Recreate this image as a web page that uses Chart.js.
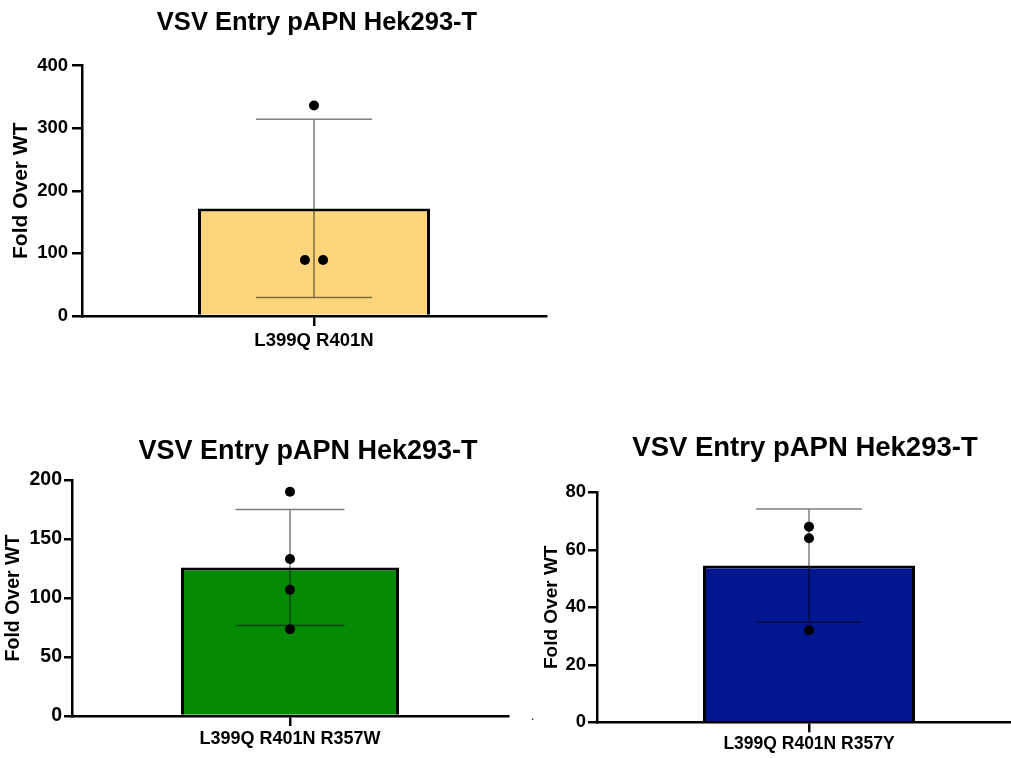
<!DOCTYPE html>
<html>
<head>
<meta charset="utf-8">
<script src="https://cdn.jsdelivr.net/npm/chart.js@4.4.1/dist/chart.umd.min.js"></script>
<style>
    html, body { margin: 0; padding: 0; background: #fff; overflow: hidden; width: 1011px; height: 758px; }
    canvas { position: absolute; }
    #dot { position: absolute; left: 531px; top: 709px; font: 12px 'Liberation Sans', Arial, sans-serif; color: #000; }
</style>
</head>
<body>
<canvas id="chart1" width="634" height="360" style="left:0;top:0"></canvas>
<canvas id="chart2" width="616" height="358" style="left:0;top:400px"></canvas>
<canvas id="chart3" width="570" height="358" style="left:520px;top:400px"></canvas>
<span id="dot">.</span>
<script>
// values
const titleText = 'VSV Entry pAPN Hek293-T';
const yTitle = 'Fold Over WT';

const labels1 = ['L399Q R401N'];
const mean1 = [171.7];
const sd1 = [142.3];
const points1 = [336, 89.5, 89.5];
const jitter1 = [0, -0.043, 0.043];
const yTicks1 = [0, 100, 200, 300, 400];

const labels2 = ['L399Q R401N R357W'];
const mean2 = [125.8];
const sd2 = [49.2];
const points2 = [190, 133, 107, 73.5];
const jitter2 = [0, 0, 0, 0];
const yTicks2 = [0, 50, 100, 150, 200];

const labels3 = ['L399Q R401N R357Y'];
const mean3 = [54.5];
const sd3 = [19.7];
const points3 = [68, 64, 32];
const jitter3 = [0, 0, 0];
const yTicks3 = [0, 20, 40, 60, 80];

const FONT = "'Liberation Sans', Arial, Helvetica, sans-serif";

// draws mean +/- sd whiskers right after the bar, so the dots sit on top
const errorBars = {
    id: 'errorBars',
    afterDatasetDraw(chart, args, opts) {
        if (args.meta.type !== 'bar') return;
        const ctx = chart.ctx;
        const y = chart.scales.y;
        const data = chart.data.datasets[args.index].data;
        args.meta.data.forEach((bar, i) => {
            const top = y.getPixelForValue(data[i] + opts.sd[i]);
            const bot = y.getPixelForValue(data[i] - opts.sd[i]);
            const half = bar.width / 4;
            ctx.save();
            ctx.strokeStyle = 'rgba(0,0,0,0.5)';
            ctx.lineWidth = 1.5;
            ctx.beginPath();
            ctx.moveTo(bar.x, top);
            ctx.lineTo(bar.x, bot);
            ctx.moveTo(bar.x - half, top);
            ctx.lineTo(bar.x + half, top);
            ctx.moveTo(bar.x - half, bot);
            ctx.lineTo(bar.x + half, bot);
            ctx.stroke();
            ctx.restore();
        });
    }
};

function makeChart(id, labels, mean, sd, points, jitter, yTicks, color, look) {
    const ctx = document.getElementById(id).getContext('2d');
    return new Chart(ctx, {
        type: 'bar',
        data: {
            labels: labels,
            datasets: [
                {
                    type: 'scatter',
                    xAxisID: 'xp',
                    data: points.map((v, i) => ({ x: jitter[i], y: v })),
                    pointRadius: 5,
                    pointHoverRadius: 5,
                    backgroundColor: '#000',
                    borderWidth: 0,
                    order: 1
                },
                {
                    data: mean,
                    backgroundColor: color,
                    borderColor: '#000',
                    borderWidth: 3,
                    borderSkipped: 'start',
                    grouped: false,
                    categoryPercentage: 1,
                    barPercentage: 0.5,
                    order: 2
                }
            ]
        },
        options: {
            responsive: false,
            animation: false,
            devicePixelRatio: 1,
            events: [],
            layout: { padding: 0 },
            plugins: {
                legend: { display: false },
                tooltip: { enabled: false },
                title: {
                    display: true,
                    text: titleText,
                    color: '#000',
                    font: { family: FONT, size: look.titleSize, weight: 'bold', lineHeight: 1.2 },
                    padding: { top: look.titleTop, bottom: look.titleBottom }
                },
                errorBars: { sd: sd }
            },
            scales: {
                x: {
                    type: 'category',
                    offset: true,
                    z: 1,
                    border: { color: '#000', width: 2.5 },
                    grid: { offset: false, drawOnChartArea: false, drawTicks: true, tickLength: 10, color: '#000', lineWidth: 2.5 },
                    ticks: { color: '#000', font: { family: FONT, size: look.catSize, weight: 'bold' }, padding: look.catPad, maxRotation: 0 },
                    afterFit: s => { s.height = look.xHeight; }
                },
                xp: {
                    type: 'linear',
                    display: false,
                    min: -1,
                    max: 1
                },
                y: {
                    min: yTicks[0],
                    max: yTicks[yTicks.length - 1],
                    afterBuildTicks: s => { s.ticks = yTicks.map(v => ({ value: v })); },
                    border: { color: '#000', width: 2.5 },
                    grid: { drawOnChartArea: false, drawTicks: true, tickLength: look.yTick, color: '#000', lineWidth: 2.5 },
                    ticks: { color: '#000', font: { family: FONT, size: look.tickSize, weight: 'bold' }, padding: look.tickPad },
                    title: {
                        display: true,
                        text: yTitle,
                        color: '#000',
                        font: { family: FONT, size: look.yTitleSize, weight: 'bold', lineHeight: 1.2 },
                        padding: { top: look.yTitlePad, bottom: 0 }
                    },
                    afterFit: s => { s.width = look.yWidth; }
                },
                // empty right-hand box so the title stays centred on the whole canvas
                yr: {
                    position: 'right',
                    display: true,
                    border: { display: false },
                    grid: { display: false },
                    ticks: { display: false },
                    afterFit: s => { s.width = look.padRight; }
                }
            }
        },
        plugins: [errorBars]
    });
}

makeChart('chart1', labels1, mean1, sd1, points1, jitter1, yTicks1, 'rgb(254, 213, 125)', {
    padRight: 88, titleSize: 25.5, titleTop: 7.2, titleBottom: 27.7,
    catSize: 18.5, catPad: 4, xHeight: 44, yTick: 10, tickSize: 18.5, tickPad: 4,
    yTitleSize: 21, yTitlePad: 8.4, yWidth: 82
});

makeChart('chart2', labels2, mean2, sd2, points2, jitter2, yTicks2, 'rgb(5, 138, 5)', {
    padRight: 108, titleSize: 27, titleTop: 35.8, titleBottom: 11.8,
    catSize: 18, catPad: 2, xHeight: 42, yTick: 8, tickSize: 19.5, tickPad: 2,
    yTitleSize: 19.5, yTitlePad: 2.3, yWidth: 72
});

makeChart('chart3', labels3, mean3, sd3, points3, jitter3, yTicks3, 'rgb(2, 22, 143)', {
    padRight: 69, titleSize: 27.5, titleTop: 31.5, titleBottom: 27.8,
    catSize: 17.5, catPad: 1.5, xHeight: 35.7, yTick: 9, tickSize: 18.5, tickPad: 2,
    yTitleSize: 19, yTitlePad: 20.6, yWidth: 77
});
</script>
</body>
</html>
